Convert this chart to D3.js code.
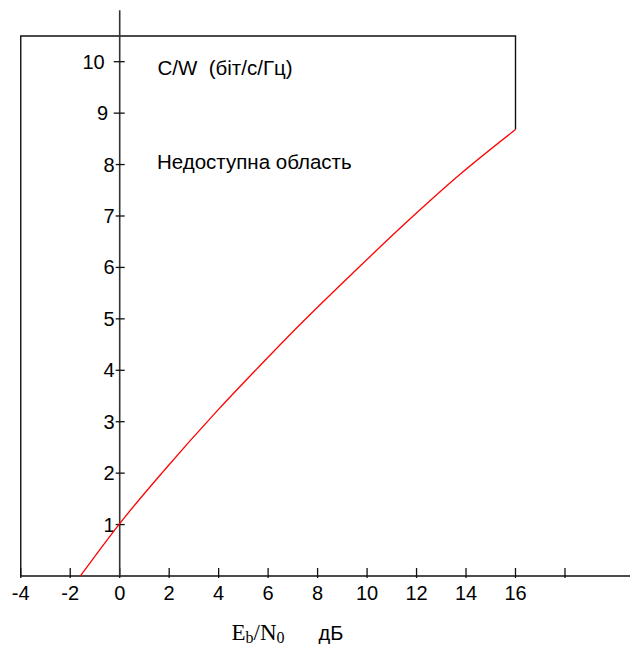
<!DOCTYPE html>
<html>
<head>
<meta charset="utf-8">
<script src="https://cdn.jsdelivr.net/npm/d3@7"></script>
<style>
  html, body { margin: 0; padding: 0; background: #fff; }
  svg { display: block; }
  text { font-family: "Liberation Sans", Arial, sans-serif; fill: #000; white-space: pre; }
</style>
</head>
<body>
<div id="chart"></div>
<script>
// ---- data ----
const ebN0dB   = [-1.59, 0, 1.83, 3.92, 5.91, 7.29, 9.51, 11.71, 13.76, 16.0];
const capacity = [0, 1.02, 2.07, 3.20, 4.21, 4.89, 5.93, 6.93, 7.81, 8.68];
const xTickValues = [-4, -2, 0, 2, 4, 6, 8, 10, 12, 14, 16, 18];
const xTickLabels = ["-4", "-2", "0", "2", "4", "6", "8", "10", "12", "14", "16", ""];
const yTickValues = [1, 2, 3, 4, 5, 6, 7, 8, 9, 10];
const yTickLabels = ["1", "2", "3", "4", "5", "6", "7", "8", "9", "10"];
const regionLeft = -4, regionRight = 16, regionTop = 10.5, yAxisTop = 11;
const yAxisTitle = "C/W  (біт/с/Гц)";
const regionLabel = "Недоступна область";
const unitLabel = "дБ";

// ---- drawing ----
const W = 630, H = 646;
const svg = d3.select("#chart").append("svg").attr("width", W).attr("height", H);

const x = d3.scaleLinear().domain([-4, 16]).range([20.75, 515.5]);
const y = d3.scaleLinear().domain([0, 10]).range([576, 61.7]);

const pts = ebN0dB.map((d, i) => [d, capacity[i]]);

// unreachable region boundary
const lastCap = capacity[capacity.length - 1];
svg.append("path")
  .attr("d", d3.line()([
    [x(regionRight), y(lastCap)],
    [x(regionRight), y(regionTop)],
    [x(regionLeft), y(regionTop)],
    [x(regionLeft), y(0)]
  ]))
  .attr("fill", "none").attr("stroke", "#111").attr("stroke-width", 1.4);

// x axis line
svg.append("line")
  .attr("x1", x(regionLeft)).attr("x2", W)
  .attr("y1", y(0)).attr("y2", y(0))
  .attr("stroke", "#111").attr("stroke-width", 1.4);

// x ticks
const xt = svg.append("g");
xTickValues.forEach((v, i) => {
  xt.append("line")
    .attr("x1", x(v)).attr("x2", x(v))
    .attr("y1", y(0) - 8).attr("y2", y(0) + 2)
    .attr("stroke", "#111").attr("stroke-width", 1.3);
  if (xTickLabels[i]) {
    xt.append("text")
      .attr("x", x(v)).attr("y", 600)
      .attr("text-anchor", "middle")
      .attr("font-size", 20)
      .text(xTickLabels[i]);
  }
});

// y axis line
svg.append("line")
  .attr("x1", x(0)).attr("x2", x(0))
  .attr("y1", y(yAxisTop)).attr("y2", y(0))
  .attr("stroke", "#333").attr("stroke-width", 1.6);

// y ticks
const yt = svg.append("g");
yTickValues.forEach((v, i) => {
  const big = v >= 9;
  const gap = v === 10 ? 15 : (v === 9 ? 11.5 : 5);
  yt.append("line")
    .attr("x1", x(0) - (big ? 6 : 4)).attr("x2", x(0) + 5)
    .attr("y1", y(v)).attr("y2", y(v))
    .attr("stroke", "#111").attr("stroke-width", 1.3);
  yt.append("text")
    .attr("x", x(0) - gap).attr("y", y(v) + 7)
    .attr("text-anchor", "end")
    .attr("font-size", 20)
    .text(yTickLabels[i]);
});

// Shannon-limit curve
svg.append("path")
  .attr("d", d3.line().x(d => x(d[0])).y(d => y(d[1])).curve(d3.curveMonotoneX)(pts))
  .attr("fill", "none").attr("stroke", "#ff0000").attr("stroke-width", 1.3);

// annotations
svg.append("text").attr("x", 157.5).attr("y", 75).attr("font-size", 20.5).text(yAxisTitle);
svg.append("text").attr("x", 157).attr("y", 168.5).attr("font-size", 20.5).text(regionLabel);

// x axis title: E_b/N_0   дБ
const t = svg.append("text").attr("x", 231.5).attr("y", 640)
  .style("font-family", "'Liberation Serif', 'Times New Roman', serif")
  .attr("font-size", 23);
t.append("tspan").text("E");
t.append("tspan").attr("dy", 3).attr("font-size", 16).text("b");
t.append("tspan").attr("dy", -3).text("/N");
t.append("tspan").attr("dy", 3).attr("font-size", 16).text("0");
svg.append("text").attr("x", 318.5).attr("y", 640).attr("font-size", 20).text(unitLabel);
</script>
</body>
</html>
